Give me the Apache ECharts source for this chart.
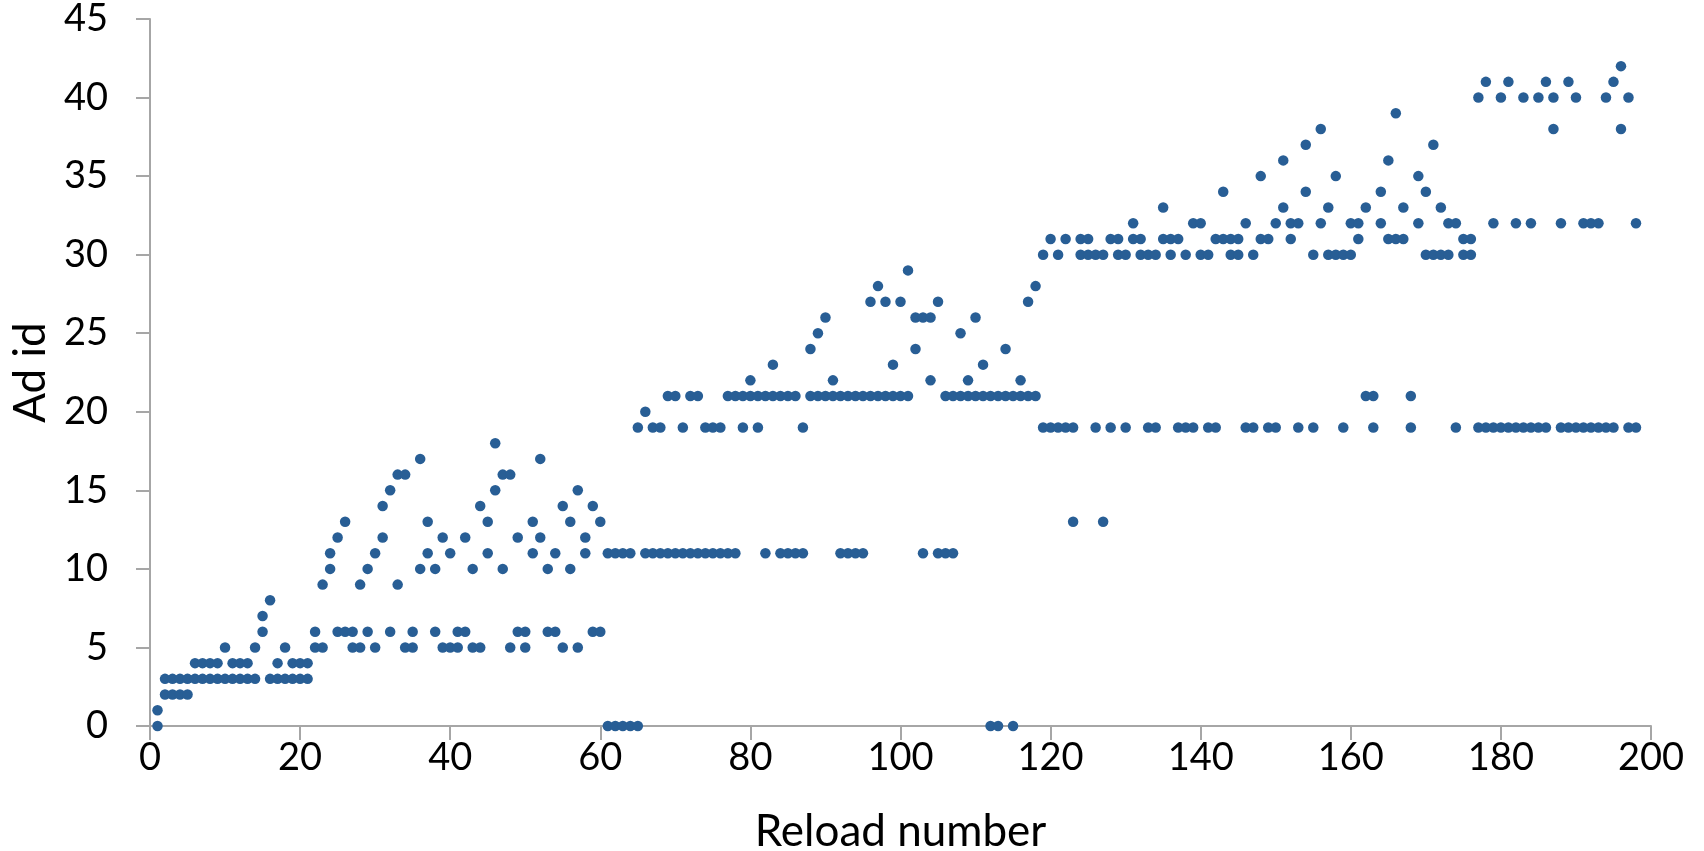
<!DOCTYPE html>
<html>
<head>
<meta charset="utf-8">
<script src="https://cdn.jsdelivr.net/npm/echarts@6/dist/echarts.min.js"></script>
<style>
html,body{margin:0;padding:0;background:#fff;}
#chart{width:1704px;height:851px;}
</style>
</head>
<body>
<div id="chart"></div>
<script>
// Reload numbers (x) and the two ad ids shown on each reload (y)
const reloadNumbers = [
1,2,3,4,5,6,7,8,9,10,11,12,13,14,15,16,17,18,19,20,
21,22,23,24,25,26,27,28,29,30,31,32,33,34,35,36,37,38,39,40,
41,42,43,44,45,46,47,48,49,50,51,52,53,54,55,56,57,58,59,60,
61,62,63,64,65,66,67,68,69,70,71,72,73,74,75,76,77,78,79,80,
81,82,83,84,85,86,87,88,89,90,91,92,93,94,95,96,97,98,99,100,
101,102,103,104,105,106,107,108,109,110,111,112,113,114,115,116,117,118,119,120,
121,122,123,124,125,126,127,128,129,130,131,132,133,134,135,136,137,138,139,140,
141,142,143,144,145,146,147,148,149,150,151,152,153,154,155,156,157,158,159,160,
161,162,163,164,165,166,167,168,169,170,171,172,173,174,175,176,177,178,179,180,
181,182,183,184,185,186,187,188,189,190,191,192,193,194,195,196,197,198
];
const adFirst = [
0,2,2,2,2,3,3,3,3,3,3,3,3,3,6,3,3,3,3,3,
3,5,5,10,6,6,5,5,6,5,12,6,9,5,5,10,11,6,5,5,
5,6,5,5,11,15,10,5,6,5,11,12,6,6,5,10,5,11,6,6,
0,0,0,0,0,11,11,11,11,11,11,11,11,11,11,11,11,11,19,21,
19,11,21,11,11,11,11,21,21,21,21,11,11,11,11,21,21,21,21,21,
21,24,11,22,11,11,11,21,21,21,21,0,0,21,0,21,21,21,19,19,
19,19,13,30,30,19,13,19,30,19,31,30,19,19,31,30,19,19,19,30,
19,19,31,30,30,19,19,31,19,19,33,31,19,34,19,32,30,30,19,30,
31,21,19,32,31,31,31,19,32,30,30,30,30,19,30,30,19,19,19,19,
19,19,19,19,19,19,38,19,19,19,19,19,19,19,19,38,19,19
];
const adSecond = [
1,3,3,3,3,4,4,4,4,5,4,4,4,5,7,8,4,5,4,4,
4,6,9,11,12,13,6,9,10,11,14,15,16,16,6,17,13,10,12,11,
6,12,10,14,13,18,16,16,12,6,13,17,10,11,14,13,15,12,14,13,
11,11,11,11,19,20,19,19,21,21,19,21,21,19,19,19,21,21,21,22,
21,21,23,21,21,21,19,24,25,26,22,21,21,21,21,27,28,27,23,27,
29,26,26,26,27,21,21,25,22,26,23,21,21,24,21,22,27,28,30,31,
30,31,19,31,31,30,30,31,31,30,32,31,30,30,33,31,31,30,32,32,
30,31,34,31,31,32,30,35,31,32,36,32,32,37,30,38,33,35,30,32,
32,33,21,34,36,39,33,21,35,34,37,33,32,32,31,31,40,41,32,40,
41,32,40,32,40,41,40,32,41,40,32,32,32,40,41,42,40,32
];
const xTicks = [0, 200, 20];   // min, max, interval
const yTicks = [0, 45, 5];

const points = [];
for (let i = 0; i < reloadNumbers.length; i++) {
  points.push([reloadNumbers[i], adFirst[i]]);
  points.push([reloadNumbers[i], adSecond[i]]);
}

const FONT = 'Lato';
const chart = echarts.init(document.getElementById('chart'), null, {renderer: 'canvas'});
chart.setOption({
  animation: false,
  backgroundColor: '#ffffff',
  grid: {left: 150, right: 53, top: 19, bottom: 125, containLabel: false, outerBoundsMode: 'none'},
  xAxis: {
    type: 'value',
    min: xTicks[0], max: xTicks[1], interval: xTicks[2],
    name: 'Reload number',
    nameLocation: 'middle',
    nameGap: 84,
    nameTextStyle: {fontFamily: FONT, fontSize: 44, color: '#000'},
    axisLine: {show: true, lineStyle: {color: '#a6a6a6', width: 2}},
    axisTick: {show: true, inside: false, length: 14, lineStyle: {color: '#a6a6a6', width: 2}},
    axisLabel: {margin: 13, fontFamily: FONT, fontSize: 38, color: '#000'},
    splitLine: {show: false}
  },
  yAxis: {
    type: 'value',
    min: yTicks[0], max: yTicks[1], interval: yTicks[2],
    name: 'Ad id',
    nameLocation: 'middle',
    nameGap: 95,
    nameRotate: 90,
    nameTextStyle: {fontFamily: FONT, fontSize: 44, color: '#000'},
    axisLine: {show: true, lineStyle: {color: '#a6a6a6', width: 2}},
    axisTick: {show: true, inside: false, length: 14, lineStyle: {color: '#a6a6a6', width: 2}},
    axisLabel: {margin: 42, fontFamily: FONT, fontSize: 38, color: '#000'},
    splitLine: {show: false}
  },
  series: [{
    type: 'scatter',
    data: points,
    symbol: 'circle',
    symbolSize: 10.5,
    itemStyle: {color: '#285e95', opacity: 1},
    clip: false
  }]
});
</script>
</body>
</html>
